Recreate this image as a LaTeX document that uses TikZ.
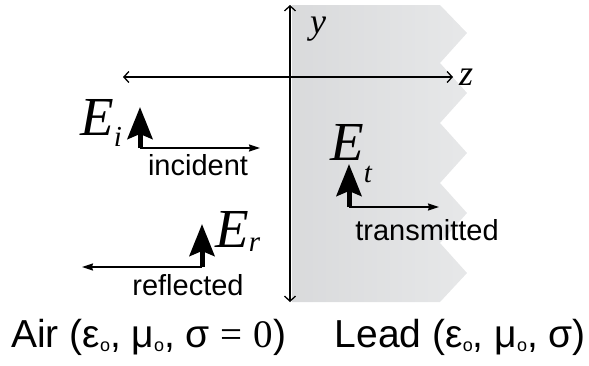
\documentclass[tikz,border=0pt]{standalone}
\usepackage{fontspec}
\setmainfont{Liberation Sans}
\newfontfamily\serifrm{Liberation Serif}
\usetikzlibrary{arrows.meta}
\definecolor{leadA}{RGB}{210,211,213}
\definecolor{leadB}{RGB}{232,233,234}
\pgfdeclarehorizontalshading{leadshade}{100bp}{color(0bp)=(leadA); color(80bp)=(leadB); color(100bp)=(white)}
\newcommand{\subo}{\raisebox{-4pt}{\fontsize{18}{18}\selectfont o}}
\begin{document}
\begin{tikzpicture}[x=1pt,y=-1pt,
  axis/.style={line width=1.3pt,{Straight Barb[length=5pt,width=11pt]}-{Straight Barb[length=5pt,width=11pt]}},
  thinarrow/.style={line width=1.3pt,-{Stealth[length=11pt,width=7pt,inset=1pt]}},
  bigarrow/.style={line width=5pt,-{Stealth[length=32pt,width=25pt,inset=5pt]}},
  lbl/.style={inner sep=0pt,font=\fontsize{29}{32}\selectfont},
  elbl/.style={inner sep=0pt,font=\serifrm\itshape\fontsize{55}{55}\selectfont},
  axlbl/.style={inner sep=0pt,font=\serifrm\itshape\fontsize{36}{36}\selectfont},
  btm/.style={inner sep=0pt,font=\fontsize{39}{42}\selectfont}]
\useasboundingbox (0,0) rectangle (589,365);
% lead slab
\shade[shading=leadshade] (292,5) -- (440,5) -- (467,33) -- (440,63) -- (467,93) -- (440,123) -- (467,153) -- (440,183) -- (467,213) -- (440,243) -- (467,273) -- (440,302) -- (292,302) -- cycle;
% axes
\coordinate (ytop) at (290,5);
\coordinate (ybot) at (290,302);
\coordinate (zleft) at (123,77);
\coordinate (zright) at (453,77);
\draw[axis] (ybot) -- (ytop);
\draw[axis] (zleft) -- (zright);
\node[axlbl,anchor=base] (ylab) at (318,33) {y};
\node[axlbl,anchor=base west] (zlab) at (459,85) {z};
% incident
\coordinate (ib) at (140,148);
\coordinate (it) at (140,107);
\coordinate (ie) at (260,148);
\draw[thinarrow] (ib) -- (ie);
\draw[bigarrow] (ib) -- (it);
\node[elbl,anchor=base west] (Ei) at (80,135) {E\raisebox{-11pt}{\fontsize{29}{29}\selectfont i}};
\node[lbl,anchor=base] (inc) at (198,175) {incident};
% reflected
\coordinate (rb) at (202,267);
\coordinate (rt) at (202,224);
\coordinate (re) at (82,267);
\draw[thinarrow] (rb) -- (re);
\draw[bigarrow] (rb) -- (rt);
\node[elbl,anchor=base west] (Er) at (215,247) {E\raisebox{-4pt}{\fontsize{29}{29}\selectfont r}};
\node[lbl,anchor=base] (ref) at (188,295) {reflected};
% transmitted
\coordinate (tb) at (349,207);
\coordinate (tt) at (349,164);
\coordinate (te) at (439,207);
\draw[thinarrow] (tb) -- (te);
\draw[bigarrow] (tb) -- (tt);
\node[elbl,anchor=base west] (Et) at (330,160) {E\raisebox{-22pt}{\fontsize{29}{29}\selectfont t}};
\node[lbl,anchor=base] (tra) at (427,240) {transmitted};
% media
\node[btm,anchor=base west] (air) at (11,347) {Air (ε\subo, μ\subo, σ {\serifrm =} {\serifrm 0})};
\node[btm,anchor=base east] (lead) at (586,347) {Lead (ε\subo, μ\subo, σ)};
\end{tikzpicture}
\end{document}
